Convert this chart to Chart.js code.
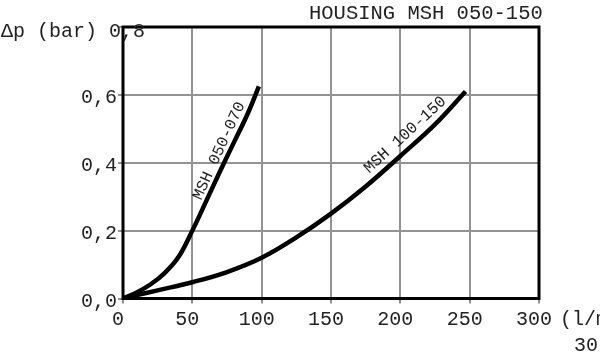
<!DOCTYPE html>
<html>
<head>
<meta charset="utf-8">
<script src="https://cdn.jsdelivr.net/npm/chart.js@4.4.0/dist/chart.umd.min.js"></script>
<style>
  html,body{margin:0;padding:0;background:#fff;}
  #wrap{width:600px;height:356px;}
</style>
</head>
<body>
<div id="wrap"><canvas id="c" width="600" height="356"></canvas></div>
<script>
// ---- data ----
const chartTitle = 'HOUSING MSH 050-150';
const yAxisTitle = 'Δp (bar)';
const xAxisTitle = '(l/min)';
const xAxisSub = '30';
const xTickLabels = ['0', '50', '100', '150', '200', '250', '300'];
const yTickLabels = ['0,0', '0,2', '0,4', '0,6', '0,8'];

const seriesA_name = 'MSH 050-070';
const seriesA_x = [0, 10, 20, 30, 40, 50, 60, 70, 80, 90, 98];
const seriesA_y = [0, 0.018, 0.042, 0.075, 0.122, 0.2, 0.287, 0.375, 0.46, 0.545, 0.625];

const seriesB_name = 'MSH 100-150';
const seriesB_x = [0, 10, 25, 50, 75, 100, 125, 150, 175, 200, 225, 247];
const seriesB_y = [0, 0.01, 0.024, 0.048, 0.078, 0.12, 0.18, 0.25, 0.33, 0.42, 0.513, 0.61];

// label anchors (data coords) and angles
const labelA = {x: 69.3, y: 0.435, angle: -65.4};
const labelB = {x: 203.5, y: 0.482, angle: -42.6};

const FONT = '"Liberation Mono", "DejaVu Sans Mono", monospace';
const toPts = (xs, ys) => xs.map((x, i) => ({x: x, y: ys[i]}));

const frameAndText = {
  id: 'frameAndText',
  afterDatasetsDraw(chart) {
    const ctx = chart.ctx, a = chart.chartArea;
    const xs = chart.scales.x, ys = chart.scales.y;
    ctx.save();
    ctx.strokeStyle = '#000';
    ctx.lineWidth = 3;
    ctx.strokeRect(a.left, a.top, a.right - a.left, a.bottom - a.top);

    ctx.fillStyle = '#222';
    ctx.font = '20.5px ' + FONT;
    ctx.textBaseline = 'middle';
    ctx.textAlign = 'left';
    ctx.fillText(chartTitle, 309, 14);
    ctx.font = '20px ' + FONT;
    ctx.fillText(yAxisTitle + ' ' + yTickLabels[yTickLabels.length - 1], 1, 32);
    ctx.fillText(xAxisTitle, 560, 320);
    ctx.fillText(xAxisSub, 574, 346);

    ctx.font = '16px ' + FONT;
    ctx.textAlign = 'center';
    [[labelA, seriesA_name], [labelB, seriesB_name]].forEach(([l, t]) => {
      ctx.save();
      ctx.translate(xs.getPixelForValue(l.x), ys.getPixelForValue(l.y));
      ctx.rotate(l.angle * Math.PI / 180);
      ctx.fillText(t, 0, 0);
      ctx.restore();
    });
    ctx.restore();
  }
};

new Chart(document.getElementById('c'), {
  type: 'line',
  data: {
    datasets: [
      {label: seriesA_name, data: toPts(seriesA_x, seriesA_y), borderColor: '#000', borderWidth: 4.5,
       pointRadius: 0, tension: 0.4, fill: false, borderCapStyle: 'butt'},
      {label: seriesB_name, data: toPts(seriesB_x, seriesB_y), borderColor: '#000', borderWidth: 4.5,
       pointRadius: 0, tension: 0.4, fill: false, borderCapStyle: 'butt'}
    ]
  },
  options: {
    responsive: false,
    animation: false,
    events: [],
    layout: {padding: {top: 27, right: 61, left: 0, bottom: 0}},
    plugins: {legend: {display: false}, tooltip: {enabled: false}, title: {display: false}},
    scales: {
      x: {
        type: 'linear', min: 0, max: 300,
        afterFit: s => { s.height = 57.5; },
        grid: {color: '#939393', lineWidth: 2, tickLength: 5, drawTicks: true},
        border: {display: false},
        ticks: {stepSize: 50, padding: 4, labelOffset: -5, color: '#222', maxRotation: 0,
                font: {family: FONT, size: 20},
                callback: (v, i) => xTickLabels[i]}
      },
      y: {
        type: 'linear', min: 0, max: 0.8,
        afterFit: s => { s.width = 123; },
        grid: {color: '#939393', lineWidth: 2, tickLength: 5, drawTicks: true},
        border: {display: false},
        ticks: {stepSize: 0.2, padding: 1, labelOffset: 3, color: '#222',
                font: {family: FONT, size: 20},
                callback: (v, i) => (i === yTickLabels.length - 1 ? '' : yTickLabels[i])}
      }
    }
  },
  plugins: [frameAndText]
});
</script>
</body>
</html>
